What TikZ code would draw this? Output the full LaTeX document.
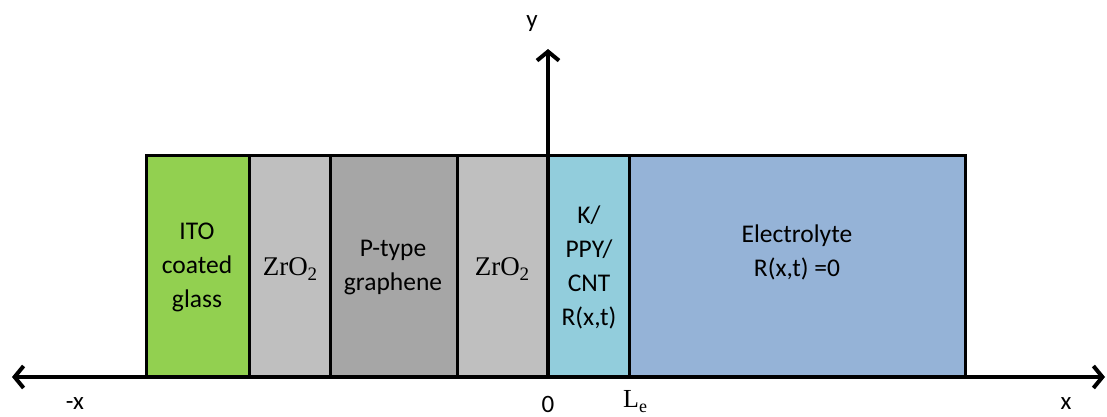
\documentclass[tikz,border=0pt]{standalone}
\usepackage[no-math]{fontspec}
\setmainfont{Carlito}
\newfontfamily\cambriaf{Liberation Serif}
\usetikzlibrary{arrows.meta}
\definecolor{itogreen}{HTML}{92D050}
\definecolor{zrgrey}{HTML}{BFBFBF}
\definecolor{pgrey}{HTML}{A6A6A6}
\definecolor{kblue}{HTML}{92CDDC}
\definecolor{eblue}{HTML}{95B3D7}
\newcommand{\zro}{{\cambriaf\fontsize{27}{30}\selectfont ZrO\raisebox{-5pt}{\fontsize{19}{20}\selectfont 2}}}
\tikzset{
  layer/.style={draw=black, line width=3pt, rectangle, inner sep=0pt, outer sep=0pt,
    minimum height=221pt, anchor=south west},
  txt/.style={font=\fontsize{25.5}{34}\selectfont, align=center, inner sep=0pt},
  axis/.style={line width=4pt, -{Straight Barb[length=9pt,width=22pt,line width=4pt]}},
  axlabel/.style={font=\fontsize{25}{30}\selectfont, inner sep=0pt}
}
\begin{document}
\begin{tikzpicture}[x=1pt,y=1pt]
\useasboundingbox (0,0) rectangle (1107,417);
% layers
\node[layer, fill=itogreen, minimum width=103pt] (ito) at (146,40) {};
\node[layer, fill=zrgrey, minimum width=81pt] (zr1) at (249,40) {};
\node[layer, fill=pgrey, minimum width=127pt] (pg) at (330,40) {};
\node[layer, fill=zrgrey, minimum width=91pt] (zr2) at (457,40) {};
\node[layer, fill=kblue, minimum width=81pt] (k) at (548,40) {};
\node[layer, fill=eblue, minimum width=336pt] (el) at (629,40) {};
% texts
\node[txt] (tito) at (197,150) {ITO\\coated\\glass};
\node[txt] (tzr1) at (290,148) {\zro};
\node[txt] (tpg) at (393,149) {P-type\\graphene};
\node[txt] (tzr2) at (502,148) {\zro};
\node[txt] (tk) at (589,150) {K/\\PPY/\\CNT\\R(x,t)};
\node[txt] (tel) at (797,165) {Electrolyte\\R(x,t) =0};
% axes
\coordinate (o) at (548,40);
\coordinate (xl) at (12,40);
\coordinate (xr) at (1105,40);
\coordinate (yt) at (548,368);
\draw[axis] (o) -- (xl);
\draw[axis] (o) -- (xr);
\draw[axis] (o) -- (yt);
% axis labels
\node[axlabel] (lmx) at (75,13) {-x};
\node[axlabel] (l0) at (548,13) {0};
\node[axlabel, anchor=west] (lle) at (623,15) {{\cambriaf\fontsize{26}{30}\selectfont L\raisebox{-5pt}{\fontsize{18}{20}\selectfont e}}};
\node[axlabel] (lx) at (1066,13) {x};
\node[axlabel] (ly) at (532,393) {y};
\end{tikzpicture}
\end{document}
